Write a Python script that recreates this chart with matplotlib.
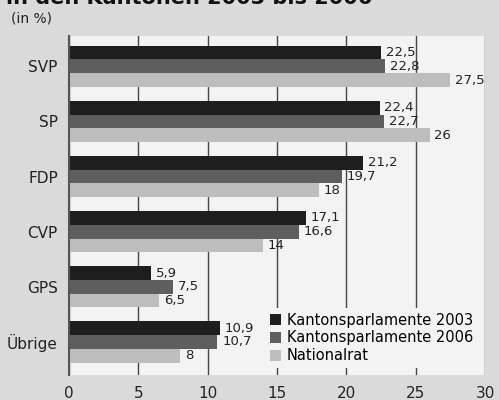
import matplotlib.pyplot as plt
import numpy as np

plt.rcParams['font.family'] = ['Liberation Sans Narrow', 'DejaVu Sans Condensed', 'DejaVu Sans']

parteien = ["SVP", "SP", "FDP", "CVP", "GPS", "Übrige"]
kanton_2003 = [22.5, 22.4, 21.2, 17.1, 5.9, 10.9]
kanton_2006 = [22.8, 22.7, 19.7, 16.6, 7.5, 10.7]
nationalrat = [27.5, 26, 18, 14, 6.5, 8]
labels_2003 = ["22,5", "22,4", "21,2", "17,1", "5,9", "10,9"]
labels_2006 = ["22,8", "22,7", "19,7", "16,6", "7,5", "10,7"]
labels_nr = ["27,5", "26", "18", "14", "6,5", "8"]
serien = ["Kantonsparlamente 2003", "Kantonsparlamente 2006", "Nationalrat"]
farben = ["#1e1e1e", "#5e5e5e", "#bdbdbd"]

fig = plt.figure(figsize=(4.99, 4.0), dpi=100, facecolor="#dadada")
ax = fig.add_axes([0.138, 0.0625, 0.834, 0.8475])
ax.set_facecolor("#f3f3f3")

y = np.arange(len(parteien))
h = 0.25
for i, (werte, texte) in enumerate(zip([kanton_2003, kanton_2006, nationalrat],
                                       [labels_2003, labels_2006, labels_nr])):
    pos = y + (i - 1) * h
    ax.barh(pos, werte, height=h, color=farben[i], label=serien[i], zorder=3)
    for p, w, t in zip(pos, werte, texte):
        ax.text(w + 0.35, p, t, va="center", ha="left", fontsize=9.5, color="#222222", zorder=4)

ax.set_xlim(0, 30)
ax.set_ylim(len(parteien) - 0.5 + 0.1, -0.5 - 0.05)
ax.set_xticks([0, 5, 10, 15, 20, 25, 30])
ax.set_xticklabels(["0", "5", "10", "15", "20", "25", "30"], fontsize=11)
ax.set_yticks(y)
ax.set_yticklabels(parteien, fontsize=11)
ax.tick_params(axis="both", length=0, pad=8, colors="#222222")
ax.grid(axis="x", color="#444444", linewidth=1.0, zorder=1)
for s in ["top", "right", "bottom"]:
    ax.spines[s].set_visible(False)
ax.spines["left"].set_color("#555555")
ax.spines["left"].set_linewidth(1.5)
ax.spines["left"].set_zorder(5)

leg = ax.legend(loc="lower right", bbox_to_anchor=(1.0, 0.0), fontsize=10.5,
                frameon=True, facecolor="#f3f3f3", edgecolor="none", framealpha=1,
                handlelength=0.8, handleheight=0.8, handletextpad=0.4,
                labelspacing=0.2, borderpad=0.3)
leg.set_zorder(6)

fig.text(0.012, 0.99, "in den Kantonen 2003 bis 2006", fontsize=15, fontweight="bold",
         va="baseline", ha="left", color="#111111")
fig.text(0.022, 0.955, "(in %)", fontsize=10, va="center", ha="left", color="#222222")

fig.savefig("out.png", dpi=100, facecolor=fig.get_facecolor())
